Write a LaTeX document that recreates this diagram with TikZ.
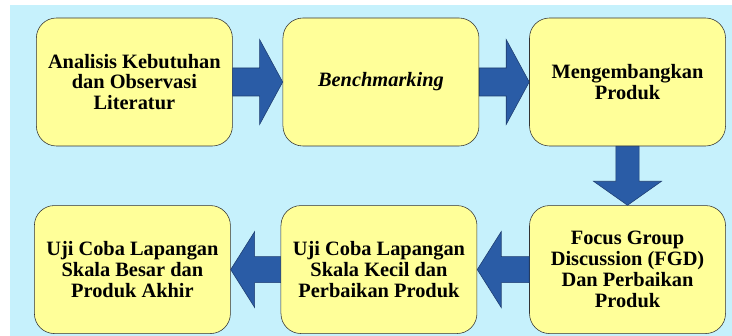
\documentclass[tikz,border=0pt]{standalone}
\usepackage{fontspec}
\setmainfont{Liberation Serif}
\usetikzlibrary{positioning,calc}
\definecolor{panelblue}{HTML}{C6F1FC}
\definecolor{boxyellow}{HTML}{FFFF99}
\definecolor{arrowblue}{HTML}{2A5CA6}
\definecolor{arrowedge}{HTML}{1E3D70}
\tikzset{%
  stage/.style={
    draw=black!80,
    fill=boxyellow,
    rounded corners=0.5cm,
    minimum width=4.9cm,
    minimum height=3.2cm,
    align=center,
    font=\fontsize{14.5}{14.8}\selectfont\bfseries
  },
  fatarrow/.style={
    draw=arrowedge,
    fill=arrowblue,
    line join=miter
  },
}

\begin{document}
\begin{tikzpicture}
\useasboundingbox (0,0) rectangle (18.3,8.4);
\fill[panelblue] (0.25,0) rectangle (18.3,8.275);

% top row
\node[stage] (analisis) at (3.36,6.35) {Analisis Kebutuhan\\dan Observasi\\Literatur};
\node[stage, right=1.25cm of analisis] (bench) {\textit{Benchmarking}};
\node[stage, right=1.25cm of bench] (kembang) {Mengembangkan\\Produk};

% bottom row
\node[stage, below=1.475cm of kembang] (fgd) {Focus Group\\Discussion (FGD)\\Dan Perbaikan\\Produk};
\node[stage, left=1.3cm of fgd] (kecil) {Uji Coba Lapangan\\Skala Kecil dan\\Perbaikan Produk};
\node[stage, left=1.25cm of kecil] (besar) {Uji Coba Lapangan\\Skala Besar dan\\Produk Akhir};

% block arrows
\draw[fatarrow] ($(analisis.east)+(0,0.35)$) -- ($(bench.west)+(-0.575,0.35)$) -- ++(0,0.71) -- (bench.west)
    -- ($(bench.west)+(-0.575,-1.06)$) -- ++(0,0.71) -- ($(analisis.east)+(0,-0.35)$) -- cycle;
\draw[fatarrow] ($(bench.east)+(0,0.35)$) -- ($(kembang.west)+(-0.575,0.35)$) -- ++(0,0.71) -- (kembang.west)
    -- ($(kembang.west)+(-0.575,-1.06)$) -- ++(0,0.71) -- ($(bench.east)+(0,-0.35)$) -- cycle;
\draw[fatarrow] ($(kembang.south)+(-0.29,0)$) -- ($(fgd.north)+(-0.29,0.6)$) -- ++(-0.56,0) -- (fgd.north)
    -- ($(fgd.north)+(0.85,0.6)$) -- ++(-0.56,0) -- ($(kembang.south)+(0.29,0)$) -- cycle;
\draw[fatarrow] ($(fgd.west)+(0,0.325)$) -- ($(kecil.east)+(0.6,0.325)$) -- ++(0,0.625) -- (kecil.east)
    -- ($(kecil.east)+(0.6,-0.95)$) -- ++(0,0.625) -- ($(fgd.west)+(0,-0.325)$) -- cycle;
\draw[fatarrow] ($(kecil.west)+(0,0.325)$) -- ($(besar.east)+(0.6,0.325)$) -- ++(0,0.625) -- (besar.east)
    -- ($(besar.east)+(0.6,-0.95)$) -- ++(0,0.625) -- ($(kecil.west)+(0,-0.325)$) -- cycle;
\end{tikzpicture}
\end{document}
